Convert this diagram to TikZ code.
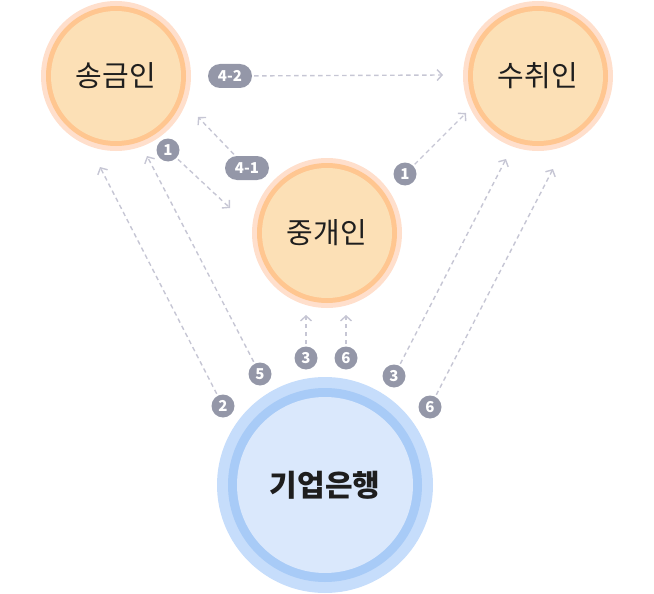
\documentclass[tikz,border=0pt]{standalone}
\usepackage{fontspec}
\setmainfont{Noto Sans CJK KR}
\newfontfamily\kr{Noto Sans CJK KR}
\usetikzlibrary{arrows.meta}
\definecolor{peachout}{HTML}{FFDFCC}
\definecolor{peachring}{HTML}{FFC690}
\definecolor{peachfill}{HTML}{FCE0B6}
\definecolor{blueout}{HTML}{C6DDFB}
\definecolor{bluering}{HTML}{A8CBF7}
\definecolor{bluefill}{HTML}{DAE8FC}
\definecolor{badgegray}{HTML}{9497A8}
\definecolor{linegray}{HTML}{C6C6D4}
\definecolor{txt}{HTML}{1E1E1E}
\tikzset{
  party/.style={circle, minimum size=130pt, inner sep=0pt, text=txt,
    font=\kr\fontsize{29}{32}\selectfont},
  badge/.style={circle, fill=badgegray, text=white, inner sep=0pt, minimum size=23pt,
    font=\kr\bfseries\fontsize{15}{16}\selectfont},
  pill/.style={rounded corners=12pt, fill=badgegray, text=white, inner sep=0pt,
    minimum height=24pt, minimum width=44pt, font=\kr\bfseries\fontsize{15}{16}\selectfont},
  flow/.style={draw=linegray, line width=1.4pt, dash pattern=on 4.5pt off 3.5pt,
    -{Straight Barb[length=5pt,width=11pt,line width=1.4pt]}, shorten <=2pt}
}
\begin{document}
\begin{tikzpicture}[x=1pt,y=-1pt]
\useasboundingbox (0,0) rectangle (654,594);
% halos and rings
\foreach \c in {(116,76),(538,76),(327,233)}{
  \fill[peachout] \c circle (75);
  \fill[peachring] \c circle (70);
  \fill[peachfill] \c circle (65);
}
\fill[blueout] (325,485) circle (108);
\fill[bluering] (325,485) circle (97);
\fill[bluefill] (325,485) circle (88);
% main nodes
\node[party] (send) at (116,76) {송금인};
\node[party] (recv) at (538,76) {수취인};
\node[party] (mid) at (327,233) {중개인};
\node[text=txt, font=\kr\bfseries\fontsize{30}{34}\selectfont] (bank) at (325,485) {기업은행};
% badges
\node[pill] (b42) at (230,76) {4-2};
\node[pill] (b41) at (247,168) {4-1};
\node[badge] (b1a) at (168,150) {1};
\node[badge] (b1b) at (405,174) {1};
\node[badge] (b2) at (223,406) {2};
\node[badge] (b5) at (260,374) {5};
\node[badge] (b3a) at (306,358) {3};
\node[badge] (b6a) at (346,358) {6};
\node[badge] (b3b) at (394,376) {3};
\node[badge] (b6b) at (430,407) {6};
% arrow targets
\coordinate (t42) at (443,75);
\coordinate (t41) at (198,117);
\coordinate (t1a) at (230,208);
\coordinate (t1b) at (466,113);
\coordinate (t2) at (100,167);
\coordinate (t5) at (147,156);
\coordinate (t3a) at (306,315);
\coordinate (t6a) at (346,315);
\coordinate (t3b) at (506,159);
\coordinate (t6b) at (553,169);
% connectors
\draw[flow] (b42) -- (t42);
\draw[flow] (b41) -- (t41);
\draw[flow] (b1a) -- (t1a);
\draw[flow] (b1b) -- (t1b);
\draw[flow] (b2) -- (t2);
\draw[flow] (b5) -- (t5);
\draw[flow] (b3a) -- (t3a);
\draw[flow] (b6a) -- (t6a);
\draw[flow] (b3b) -- (t3b);
\draw[flow] (b6b) -- (t6b);
\end{tikzpicture}
\end{document}
